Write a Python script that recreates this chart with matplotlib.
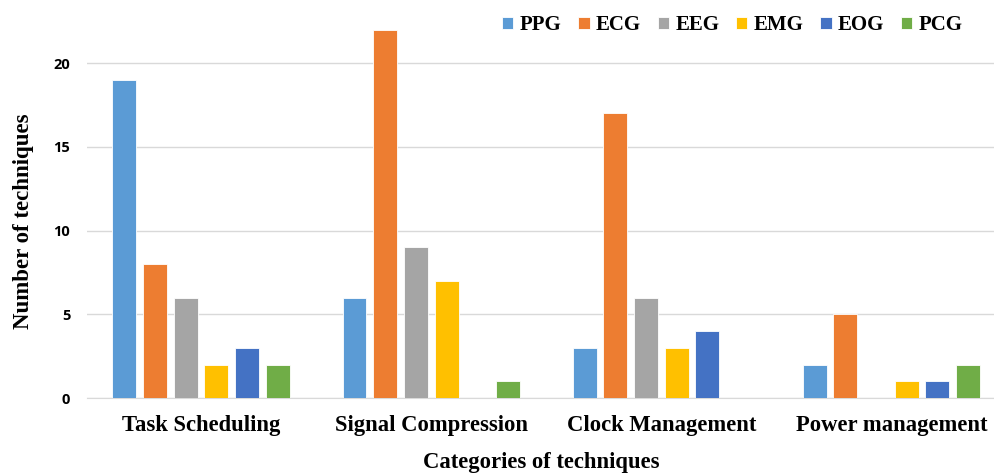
import numpy as np
import matplotlib
matplotlib.use("Agg")
import matplotlib.pyplot as plt

categories = ["Task Scheduling", "Signal Compression", "Clock Management", "Power management"]
series = ["PPG", "ECG", "EEG", "EMG", "EOG", "PCG"]
ppg = [19, 6, 3, 2]
ecg = [8, 22, 17, 5]
eeg = [6, 9, 6, 0]
emg = [2, 7, 3, 1]
eog = [3, 0, 4, 1]
pcg = [2, 1, 0, 2]
colors = ["#5b9bd5", "#ed7d31", "#a5a5a5", "#ffc000", "#4472c4", "#70ad47"]

values = [ppg, ecg, eeg, emg, eog, pcg]

fig = plt.figure(figsize=(9.95, 4.74), dpi=100)
ax = fig.add_axes([0.0874, 0.1603, 0.9126, 0.795])

x = np.arange(len(categories))
step = 0.1333
width = 0.104
for i, (name, vals) in enumerate(zip(series, values)):
    ax.bar(x + (i - 2.5) * step, vals, width, color=colors[i], label=name,
           edgecolor="white", linewidth=0.6, zorder=3)

ax.set_xlim(-0.496, 3.45)
ax.set_ylim(0, 22.5)
ax.set_yticks([0, 5, 10, 15, 20])
ax.yaxis.grid(True, color="#d9d9d9", linewidth=1, zorder=0)
for s in ["top", "right", "left"]:
    ax.spines[s].set_visible(False)
ax.spines["bottom"].set_color("#d9d9d9")
ax.tick_params(axis="both", length=0)
ax.tick_params(axis="y", pad=12)
ax.tick_params(axis="x", pad=12)

ax.set_xticks(x)
ax.set_xticklabels(categories, fontfamily="Liberation Serif", fontweight="bold", fontsize=16.3)
for lab in ax.get_yticklabels():
    lab.set_fontfamily("Open Sans")
    lab.set_fontweight("bold")
    lab.set_fontsize(10.5)

ax.set_xlabel("Categories of techniques", fontfamily="Liberation Serif", fontweight="bold",
              fontsize=16.3, labelpad=12)
ax.set_ylabel("Number of techniques", fontfamily="Liberation Serif", fontweight="bold",
              fontsize=16.5)
ax.yaxis.set_label_coords(-0.058, 0.47)

ax.legend(loc="upper right", bbox_to_anchor=(0.985, 1.065), ncol=6, frameon=False,
          prop={"family": "Liberation Serif", "weight": "bold", "size": 15},
          handlelength=0.55, handleheight=0.55, handletextpad=0.3, columnspacing=0.8)

fig.savefig("out.png", dpi=100)
